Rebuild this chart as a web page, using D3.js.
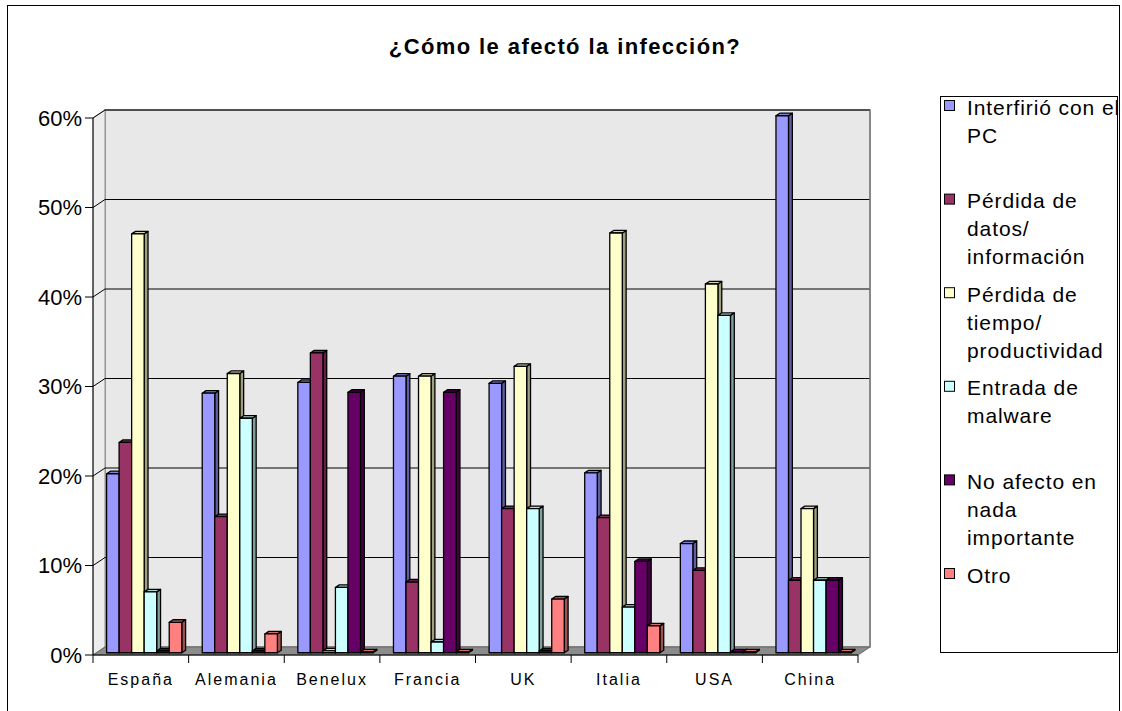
<!DOCTYPE html>
<html>
<head>
<meta charset="utf-8">
<script src="https://cdnjs.cloudflare.com/ajax/libs/d3/7.8.5/d3.min.js"></script>
<style>
  body { margin: 0; background: #fff; }
  text { font-family: Arial, "Liberation Sans", sans-serif; }
</style>
</head>
<body>
<div id="chart"></div>
<script>
// data
var categories = ['España', 'Alemania', 'Benelux', 'Francia', 'UK', 'Italia', 'USA', 'China'];
var seriesNames = ['Interfirió con el PC', 'Pérdida de datos/ información', 'Pérdida de tiempo/ productividad',
  'Entrada de malware', 'No afecto en nada importante', 'Otro'];
var legendLines = [['Interfirió con el', 'PC'], ['Pérdida de', 'datos/', 'información'],
  ['Pérdida de', 'tiempo/', 'productividad'], ['Entrada de', 'malware'],
  ['No afecto en', 'nada', 'importante'], ['Otro']];
var interfirio = [20.0, 29.0, 30.2, 30.9, 30.1, 20.1, 12.2, 60.0];
var perdidaDatos = [23.5, 15.2, 33.5, 7.9, 16.1, 15.1, 9.2, 8.1];
var perdidaTiempo = [46.8, 31.2, 0.2, 30.9, 32.0, 46.9, 41.2, 16.1];
var malware = [6.8, 26.2, 7.3, 1.2, 16.1, 5.1, 37.7, 8.1];
var noAfecto = [0.2, 0.2, 29.1, 29.1, 0.2, 10.2, 0.1, 8.1];
var otro = [3.4, 2.1, 0.1, 0.1, 6.0, 3.0, 0.1, 0.1];
var yTicks = [0, 10, 20, 30, 40, 50, 60];

var values = [interfirio, perdidaDatos, perdidaTiempo, malware, noAfecto, otro];
var colors = ['#9999FF', '#993366', '#FFFFCC', '#CCFFFF', '#660066', '#FF8080'];

drawChart();

function drawChart() {
  var W = 1122, H = 711;
  var svg = d3.select('#chart').append('svg').attr('width', W).attr('height', H);

  // outer border
  svg.append('rect').attr('x', 7.5).attr('y', 5.5).attr('width', 1112).attr('height', 720)
    .attr('fill', '#fff').attr('stroke', '#000').attr('stroke-width', 1);

  // front plane geometry + depth offset
  var left = 93, right = 858, bottom = 655, plotTop = 118;
  var depthX = 12, depthY = -8;
  function P(x, y, d) { return [x + d * depthX, y + d * depthY]; }
  function poly(pts) { return pts.map(function (p) { return p.join(','); }).join(' '); }

  var x = d3.scaleBand().domain(categories).range([left, right]);
  var bw = x.bandwidth();
  var barW = bw * 0.131;
  var gap = bw - barW * seriesNames.length;
  var xs = d3.scaleBand().domain(d3.range(seriesNames.length)).range([gap / 2, bw - gap / 2]);
  var y = d3.scaleLinear().domain([0, 60]).range([bottom, plotTop]);

  var g = svg.append('g');

  // walls
  g.append('polygon').attr('points', poly([P(left, y(0), 1), P(right, y(0), 1), P(right, y(60), 1), P(left, y(60), 1)]))
    .attr('fill', '#e8e8e8').attr('stroke', '#808080').attr('stroke-width', 1.5);
  g.append('polygon').attr('points', poly([P(left, y(0), 0), P(left, y(0), 1), P(left, y(60), 1), P(left, y(60), 0)]))
    .attr('fill', '#ececec').attr('stroke', '#909090').attr('stroke-width', 1);
  // floor
  g.append('polygon').attr('points', poly([P(left, y(0), 0), P(right, y(0), 0), P(right, y(0), 1), P(left, y(0), 1)]))
    .attr('fill', '#8c8c8c').attr('stroke', '#666').attr('stroke-width', 1);

  // gridlines
  yTicks.slice(1).forEach(function (t) {
    g.append('polyline').attr('points', poly([P(left, y(t), 0), P(left, y(t), 1), P(right, y(t), 1)]))
      .attr('fill', 'none').attr('stroke', '#000').attr('stroke-width', 1);
  });
  g.append('line').attr('x1', P(right, y(60), 1)[0]).attr('y1', P(right, y(60), 1)[1])
    .attr('x2', P(right, y(0), 1)[0]).attr('y2', P(right, y(0), 1)[1])
    .attr('stroke', '#808080').attr('stroke-width', 1.5);

  // bars
  var f0 = 0.28, f1 = 0.6;
  categories.forEach(function (c, ci) {
    values.forEach(function (arr, si) {
      var v = arr[ci];
      var x0 = x(c) + xs(si), x1 = x0 + barW;
      var base = colors[si];
      var side = d3.color(base).darker(1.3);
      var topc = d3.color(base).darker(0.5);
      var bg = g.append('g').attr('stroke', '#000').attr('stroke-width', 1.3).attr('stroke-linejoin', 'round');
      bg.append('polygon').attr('points', poly([P(x1, y(0), f0), P(x1, y(0), f1), P(x1, y(v), f1), P(x1, y(v), f0)]))
        .attr('fill', side);
      bg.append('polygon').attr('points', poly([P(x0, y(v), f0), P(x1, y(v), f0), P(x1, y(v), f1), P(x0, y(v), f1)]))
        .attr('fill', topc);
      bg.append('polygon').attr('points', poly([P(x0, y(0), f0), P(x1, y(0), f0), P(x1, y(v), f0), P(x0, y(v), f0)]))
        .attr('fill', base);
    });
  });

  // y axis
  g.append('line').attr('x1', left).attr('x2', left).attr('y1', y(60)).attr('y2', y(0))
    .attr('stroke', '#000').attr('stroke-width', 1);
  yTicks.forEach(function (t) {
    g.append('line').attr('x1', left - 8).attr('x2', left).attr('y1', y(t)).attr('y2', y(t)).attr('stroke', '#000');
    g.append('text').attr('x', left - 11).attr('y', y(t)).attr('dy', '0.36em')
      .attr('text-anchor', 'end').attr('font-size', 22).attr('fill', '#000').text(t + '%');
  });

  // x axis
  g.append('line').attr('x1', left).attr('x2', right).attr('y1', bottom).attr('y2', bottom).attr('stroke', '#000');
  categories.concat(['__end']).forEach(function (c, i) {
    var xx = i < categories.length ? x(c) : right;
    g.append('line').attr('x1', xx).attr('x2', xx).attr('y1', bottom).attr('y2', bottom + 8).attr('stroke', '#000');
  });
  categories.forEach(function (c) {
    g.append('text').attr('x', x(c) + bw / 2).attr('y', 679).attr('dy', '0.36em')
      .attr('text-anchor', 'middle').attr('font-size', 16).attr('letter-spacing', 2).attr('fill', '#000').text(c);
  });

  // title
  svg.append('text').attr('x', 565).attr('y', 46).attr('dy', '0.36em').attr('text-anchor', 'middle')
    .attr('font-size', 22).attr('font-weight', 'bold').attr('letter-spacing', 1.4).attr('fill', '#000')
    .text('¿Cómo le afectó la infección?');

  // legend
  var lg = svg.append('g');
  lg.append('rect').attr('x', 940.5).attr('y', 96.5).attr('width', 177).attr('height', 556)
    .attr('fill', '#fff').attr('stroke', '#000').attr('stroke-width', 1);
  legendLines.forEach(function (lines, i) {
    var y0 = 107 + i * 93.6;
    lg.append('rect').attr('x', 944.5).attr('y', y0 - 6.5).attr('width', 10).attr('height', 10)
      .attr('fill', colors[i]).attr('stroke', '#000').attr('stroke-width', 1);
    lines.forEach(function (l, li) {
      lg.append('text').attr('x', 967).attr('y', y0 + li * 28).attr('dy', '0.36em')
        .attr('font-size', 21).attr('letter-spacing', 0.9).attr('fill', '#000').text(l);
    });
  });
}
</script>
</body>
</html>
